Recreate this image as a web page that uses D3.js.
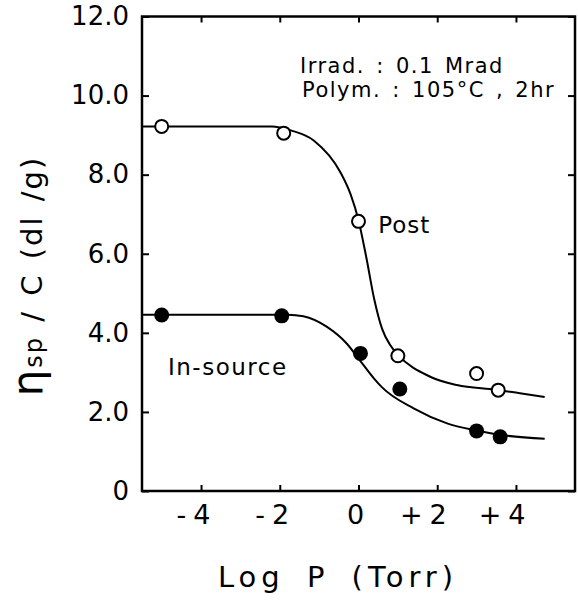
<!DOCTYPE html>
<html lang="en">
<head>
    <meta charset="UTF-8">
    <title>Viscosity vs pressure</title>
    <script src="https://cdn.jsdelivr.net/npm/d3@7/dist/d3.min.js"></script>
    <style>
        body { margin: 0; background: #fff; }
        text { font-family: "DejaVu Sans", sans-serif; fill: #000; }
    </style>
</head>
<body>
    <script>
        // measured points
        var postX = [-5.0, -1.9, 0.0, 1.0, 3.0, 3.55];
        var postY = [9.22, 9.05, 6.82, 3.42, 2.97, 2.55];
        var inSourceX = [-5.0, -1.95, 0.05, 1.05, 3.0, 3.6];
        var inSourceY = [4.45, 4.43, 3.48, 2.58, 1.52, 1.37];

        // hand-drawn fit curves
        var postCurveX = [-5.5, -2.2, -1.72, -1.13, -0.46, -0.2, 0.0, 0.2, 0.4, 0.6, 0.8, 1.0, 1.82, 2.5, 3.5, 4.1, 4.73];
        var postCurveY = [9.22, 9.22, 9.12, 8.86, 8.06, 7.5, 6.85, 5.9, 4.85, 4.1, 3.7, 3.45, 2.89, 2.68, 2.56, 2.47, 2.38];
        var inCurveX = [-5.5, -1.8, -1.4, -0.8, -0.3, 0.0, 0.39, 0.6, 1.4, 2.25, 3.0, 3.6, 4.73];
        var inCurveY = [4.46, 4.46, 4.42, 4.15, 3.73, 3.35, 2.85, 2.62, 2.09, 1.71, 1.53, 1.42, 1.32];

        var xTicks = [-4, -2, 0, 2, 4];
        var xTickLabels = ["-4", "-2", "0", "+2", "+4"];
        var yTicks = [0, 2, 4, 6, 8, 10, 12];
        var yTickLabels = ["0", "2.0", "4.0", "6.0", "8.0", "10.0", "12.0"];

        var width = 578, height = 602;
        var svg = d3.select("body").append("svg")
            .attr("width", width)
            .attr("height", height);

        var x = d3.scaleLinear().domain([-5.5, 5.5]).range([142, 575]);
        var y = d3.scaleLinear().domain([0, 12]).range([491, 16.5]);

        // frame
        svg.append("rect")
            .attr("x", x(-5.5)).attr("y", y(12))
            .attr("width", x(5.5) - x(-5.5)).attr("height", y(0) - y(12))
            .attr("fill", "none").attr("stroke", "#000").attr("stroke-width", 2.5);

        // axes with inward ticks
        var yAxis = svg.append("g")
            .attr("transform", "translate(" + x(-5.5) + ",0)")
            .call(d3.axisLeft(y).tickValues(yTicks).tickSize(-7).tickPadding(13)
                .tickFormat(function (d, i) { return yTickLabels[i]; }));
        svg.append("g")
            .attr("transform", "translate(" + x(5.5) + ",0)")
            .call(d3.axisRight(y).tickValues(yTicks).tickSize(-7).tickFormat(""));
        var xAxis = svg.append("g")
            .attr("transform", "translate(0," + y(0) + ")")
            .call(d3.axisBottom(x).tickValues(xTicks).tickSize(-6).tickPadding(14)
                .tickFormat(function (d, i) { return xTickLabels[i]; }));
        svg.append("g")
            .attr("transform", "translate(0," + y(12) + ")")
            .call(d3.axisTop(x).tickValues(xTicks).tickSize(-6).tickFormat(""));

        svg.selectAll(".domain").remove();
        svg.selectAll(".tick line").attr("stroke", "#000").attr("stroke-width", 2);

        yAxis.selectAll("text")
            .style("font-size", "26px")
            .style("font-family", "DejaVu Sans");
        xAxis.selectAll("text")
            .style("font-size", "27px")
            .style("font-family", "DejaVu Sans")
            .style("letter-spacing", "7px")
            .attr("text-anchor", function (d) { return d === 0 ? "middle" : "end"; })
            .attr("dx", function (d) { return d === 0 ? 0 : 16; });

        // curves
        var line = d3.line()
            .x(function (d) { return x(d[0]); })
            .y(function (d) { return y(d[1]); })
            .curve(d3.curveMonotoneX);

        svg.append("path")
            .datum(d3.zip(postCurveX, postCurveY))
            .attr("d", line)
            .attr("fill", "none").attr("stroke", "#000").attr("stroke-width", 2);
        svg.append("path")
            .datum(d3.zip(inCurveX, inCurveY))
            .attr("d", line)
            .attr("fill", "none").attr("stroke", "#000").attr("stroke-width", 2);

        // points
        svg.selectAll(".post")
            .data(d3.zip(postX, postY))
            .enter().append("circle")
            .attr("class", "post")
            .attr("cx", function (d) { return x(d[0]); })
            .attr("cy", function (d) { return y(d[1]); })
            .attr("r", 6.5)
            .attr("fill", "#fff").attr("stroke", "#000").attr("stroke-width", 2);
        svg.selectAll(".insrc")
            .data(d3.zip(inSourceX, inSourceY))
            .enter().append("circle")
            .attr("class", "insrc")
            .attr("cx", function (d) { return x(d[0]); })
            .attr("cy", function (d) { return y(d[1]); })
            .attr("r", 7.5)
            .attr("fill", "#000");

        // labels
        svg.append("text")
            .attr("x", x(0.5)).attr("y", 233)
            .style("font-size", "23px").style("letter-spacing", "1px")
            .text("Post");
        svg.append("text")
            .attr("x", 168).attr("y", 375)
            .style("font-size", "23px").style("letter-spacing", "1.5px")
            .text("In-source");

        svg.append("text")
            .attr("x", 300).attr("y", 73)
            .style("font-size", "21px").style("letter-spacing", "1.5px")
            .style("word-spacing", "3px")
            .text("Irrad. : 0.1 Mrad");
        svg.append("text")
            .attr("x", 302).attr("y", 97)
            .style("font-size", "21px").style("letter-spacing", "1.5px")
            .style("word-spacing", "3px")
            .text("Polym. : 105°C , 2hr");

        // axis titles
        svg.append("text")
            .attr("x", 338).attr("y", 587)
            .attr("text-anchor", "middle")
            .style("font-size", "29px").style("letter-spacing", "5px")
            .style("word-spacing", "8px")
            .text("Log P (Torr)");

        var yt = svg.append("text")
            .attr("transform", "translate(42,276) rotate(-90)")
            .attr("text-anchor", "middle")
            .style("font-size", "29px").style("letter-spacing", "2px");
        yt.append("tspan").style("font-size", "42px").text("η");
        yt.append("tspan").style("font-size", "24px").text("sp");
        yt.append("tspan").style("word-spacing", "3px").text(" / C (dl /g)");
    </script>
</body>
</html>
